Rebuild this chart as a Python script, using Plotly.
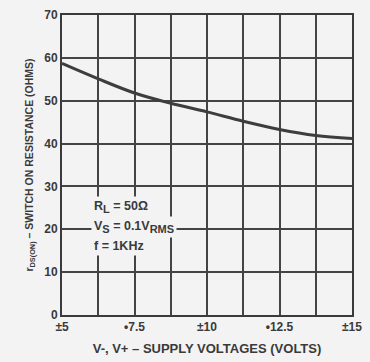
import plotly.graph_objects as go

supply_v = [5, 6.25, 7.5, 8.75, 10, 11.25, 12.5, 13.75, 15]
r_on = [58.7, 55.1, 51.8, 49.4, 47.4, 45.2, 43.3, 41.9, 41.2]
x_tick_vals = [5, 7.5, 10, 12.5, 15]
x_tick_text = ["±5", "•7.5", "±10", "•12.5", "±15"]
x_minor_grid = [6.25, 8.75, 11.25, 13.75]
y_tick_vals = [0, 10, 20, 30, 40, 50, 60, 70]
sub = "<sub><span style='font-size:11px'>{}</span></sub>"
conditions = ["R" + sub.format("L") + " = 50Ω",
              "V" + sub.format("S") + " = 0.1V" + sub.format("RMS"),
              "f = 1KHz"]
cond_y = [25.3, 20.6, 16.0]

bg = "#f3f3f3"
ink = "#3a3a3a"
family = "Liberation Sans, Arial, sans-serif"
fnt = dict(family=family, size=12, color=ink, weight="bold")

fig = go.Figure()
fig.add_trace(go.Scatter(x=supply_v, y=r_on, mode="lines",
                         line=dict(color="#3d3d3d", width=3, shape="spline"),
                         showlegend=False, hoverinfo="skip"))

for t, yv in zip(conditions, cond_y):
    fig.add_annotation(x=6.0, y=yv, text=t, showarrow=False, xanchor="left",
                       font=dict(family=family, size=12.5, color=ink, weight="bold"),
                       bgcolor=bg, borderpad=2)

fig.update_layout(
    width=370, height=362,
    margin=dict(l=62, r=8, t=10, b=46),
    paper_bgcolor=bg, plot_bgcolor=bg,
    font=fnt,
    xaxis=dict(range=[5, 15], tickvals=x_tick_vals, ticktext=x_tick_text,
               showgrid=True, gridcolor="#444444", gridwidth=2, zeroline=False,
               showline=True, linecolor=ink, linewidth=2, mirror=True,
               ticks="", tickfont=dict(size=12, color=ink), ticklabeloverflow="allow",
               minor=dict(tickvals=x_minor_grid, showgrid=True, gridcolor="#444444",
                          gridwidth=2, ticks=""),
               title=dict(text="V-, V+ – SUPPLY VOLTAGES (VOLTS)", standoff=10,
                          font=dict(size=13, color=ink))),
    yaxis=dict(range=[0, 70], tickvals=y_tick_vals, showgrid=True, gridcolor="#444444",
               gridwidth=2, zeroline=False, showline=True, linecolor=ink, linewidth=2,
               mirror=True, ticks="", tickfont=dict(size=12, color=ink),
               title=dict(text="r<sub>DS(ON)</sub> – SWITCH ON RESISTANCE (OHMS)", standoff=9,
                          font=dict(size=10.5, color=ink))),
)

fig.write_html("out.html")
